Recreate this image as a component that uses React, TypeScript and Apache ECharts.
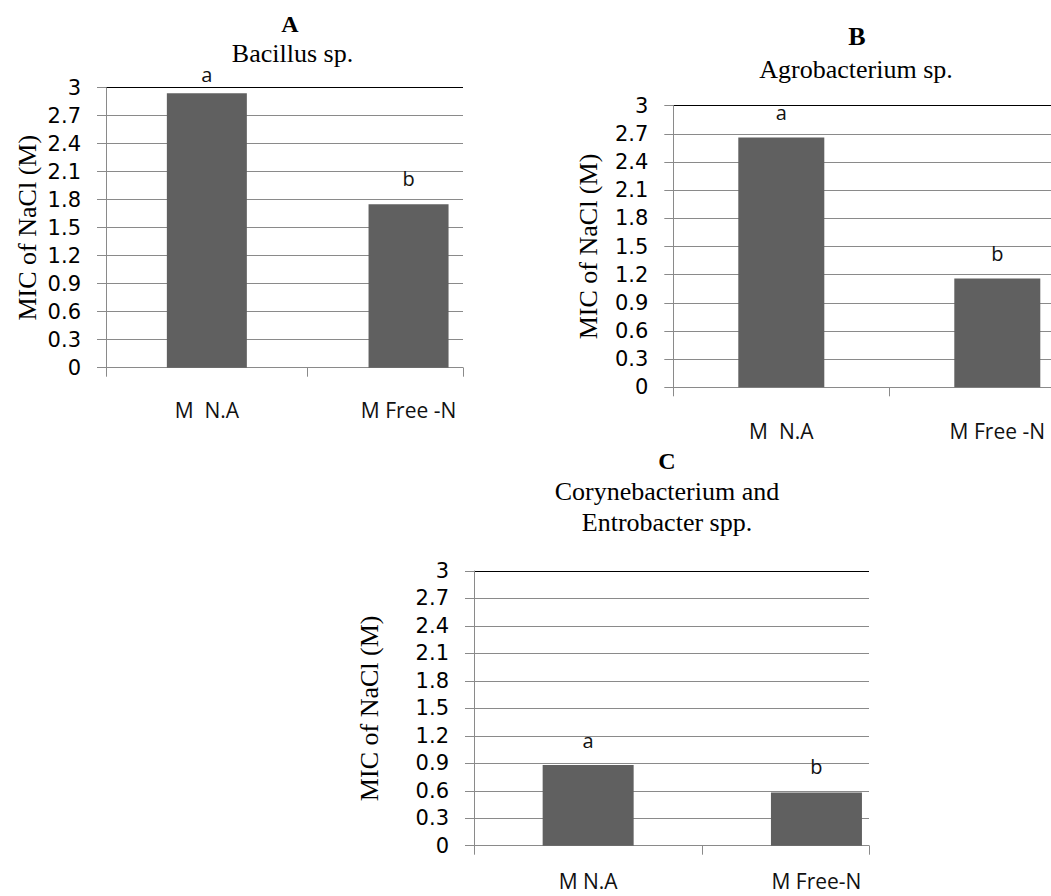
import React, { useEffect, useRef } from 'react';
import * as echarts from 'echarts';

// ---------- data ----------
const categoriesA = ['M  N.A', 'M Free -N'];
const categoriesB = ['M  N.A', 'M Free -N'];
const categoriesC = ['M N.A', 'M Free-N'];
const valuesA = [2.94, 1.75];
const valuesB = [2.66, 1.16];
const valuesC = [0.88, 0.58];
const lettersA = ['a', 'b'];
const lettersB = ['a', 'b'];
const lettersC = ['a', 'b'];
const yMin = 0;
const yMax = 3;
const yInterval = 0.3;
const yAxisTitle = 'MIC of NaCl (M)';
const panelLetters = ['A', 'B', 'C'];
const panelSubtitles = ['Bacillus sp.', 'Agrobacterium sp.', 'Corynebacterium and\nEntrobacter spp.'];

// ---------- layout ----------
const GRAY = '#8a8a8a';
const BAR = '#606060';
const SERIF = "'Liberation Serif', 'Times New Roman', serif";
const TICKFONT = "'DejaVu Sans', sans-serif";
const CATFONT = "'Open Sans', sans-serif";

const panels = [
  { cats: categoriesA, vals: valuesA, letters: lettersA, left: 106, top: 87.7, height: 280, gridW: 357, catW: 201.7, barW: 80, nameGap: 66, labelMargin: 32, dist: [9, 16] },
  { cats: categoriesB, vals: valuesB, letters: lettersB, left: 673.3, top: 105.7, height: 281.6, gridW: 395, catW: 216, barW: 86, nameGap: 72, labelMargin: 33, dist: [15, 15] },
  { cats: categoriesC, vals: valuesC, letters: lettersC, left: 474, top: 571, height: 274.7, gridW: 395, catW: 228.3, barW: 91, nameGap: 92, labelMargin: 25, dist: [15, 16] },
];

const titlePos = [
  { lx: 290, ly: 24, sx: 292.5, sy: 53, size: 24 },
  { lx: 857, ly: 36.5, sx: 856, sy: 69.5, size: 26 },
  { lx: 667, ly: 460.5, sx: 667, sy: 507, size: 24 },
];

export default function App() {
  const ref = useRef<HTMLDivElement>(null);
  useEffect(() => {
    if (!ref.current) return;
    const chart = echarts.init(ref.current, undefined, { renderer: 'svg' });
    const grid: any[] = [];
    const xAxis: any[] = [];
    const yAxis: any[] = [];
    const series: any[] = [];
    const nLines = Math.round((yMax - yMin) / yInterval) + 1;
    const lineColors = Array.from({ length: nLines }, (_, i) => (i === nLines - 1 ? '#000' : GRAY));
    panels.forEach((p, i) => {
      grid.push({ left: p.left, top: p.top, width: p.gridW, height: p.height, containLabel: false, outerBoundsMode: 'none' });
      grid.push({ left: p.left, top: p.top, width: p.catW * 2, height: p.height, containLabel: false, outerBoundsMode: 'none' });
      xAxis.push({
        type: 'value', gridIndex: 2 * i, min: 0, max: p.gridW / p.catW, interval: 1,
        axisLine: { show: true, onZero: false, lineStyle: { color: GRAY, width: 1 } },
        axisTick: { show: true, length: 9, lineStyle: { color: GRAY } },
        axisLabel: { show: false }, splitLine: { show: false },
      });
      xAxis.push({
        type: 'category', gridIndex: 2 * i + 1, data: p.cats,
        axisLine: { show: false }, axisTick: { show: false }, splitLine: { show: false },
        axisLabel: { fontFamily: CATFONT, fontSize: 21, lineHeight: 21, color: '#111', margin: p.labelMargin, interval: 0 },
      });
      yAxis.push({
        type: 'value', gridIndex: 2 * i, min: yMin, max: yMax, interval: yInterval,
        axisLine: { show: true, onZero: false, lineStyle: { color: GRAY, width: 1 } },
        axisTick: { show: true, length: 9, lineStyle: { color: GRAY } },
        axisLabel: { fontFamily: TICKFONT, fontSize: 21, color: '#000', margin: 25, hideOverlap: false },
        splitLine: { show: true, lineStyle: { color: lineColors, width: 1 } },
        name: yAxisTitle, nameLocation: 'middle', nameGap: p.nameGap, nameMoveOverlap: false,
        nameTextStyle: { fontFamily: SERIF, fontSize: 26, lineHeight: 26, color: '#000' },
      });
      yAxis.push({ type: 'value', gridIndex: 2 * i + 1, min: yMin, max: yMax, show: false });
      series.push({
        type: 'bar', xAxisIndex: 2 * i + 1, yAxisIndex: 2 * i + 1, barWidth: p.barW,
        itemStyle: { color: BAR },
        data: p.vals.map((v, j) => ({ value: v, label: { distance: p.dist[j] } })),
        label: {
          show: true, position: 'top', fontFamily: CATFONT, fontSize: 20, color: '#111',
          formatter: (d: any) => p.letters[d.dataIndex],
        },
      });
    });
    const graphic: any[] = [];
    titlePos.forEach((t, i) => {
      graphic.push({
        type: 'text', x: t.lx, y: t.ly,
        style: { text: panelLetters[i], fontFamily: SERIF, fontWeight: 'bold', fontSize: t.size, fill: '#000', align: 'center', verticalAlign: 'middle' },
      });
      graphic.push({
        type: 'text', x: t.sx, y: t.sy,
        style: { text: panelSubtitles[i], fontFamily: SERIF, fontSize: 26, lineHeight: 31, fill: '#000', align: 'center', verticalAlign: 'middle' },
      });
    });
    chart.setOption({
      animation: false,
      backgroundColor: '#fff',
      grid, xAxis, yAxis, series, graphic,
    });
    return () => chart.dispose();
  }, []);
  return <div ref={ref} style={{ position: 'absolute', left: 0, top: 0, width: 1051, height: 896 }} />;
}
